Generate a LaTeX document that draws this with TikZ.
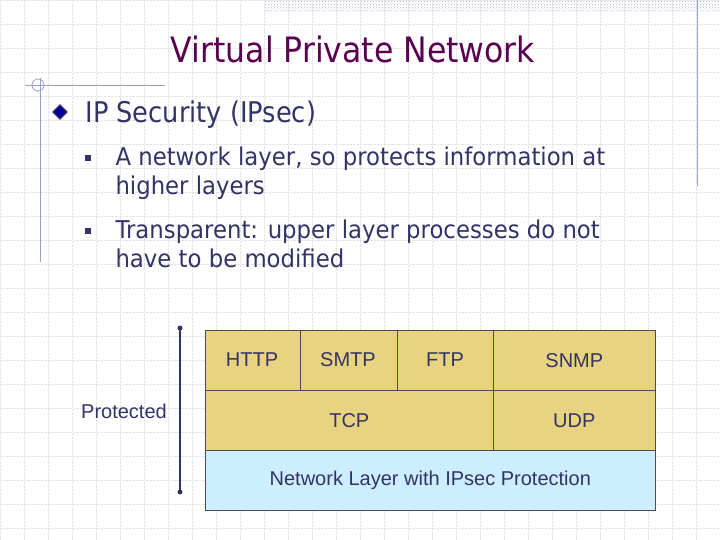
\documentclass[tikz,border=0pt]{standalone}
\usepackage{fontspec}
\setmainfont{DejaVu Sans}
\newfontfamily\arialf{Liberation Sans}
\usetikzlibrary{patterns}
\definecolor{titlec}{HTML}{5A0050}
\definecolor{bodyc}{HTML}{333366}
\definecolor{tan}{HTML}{E8D480}
\definecolor{lblue}{HTML}{CCEEFF}
\definecolor{gridc}{HTML}{E4E4E4}
\definecolor{decoc}{HTML}{99A0C8}
\tikzset{cell/.style={draw=black!70,line width=0.6pt,fill=tan},
 lbl/.style={font=\arialf\fontsize{20}{24}\selectfont,text=bodyc},
 sub/.style={anchor=north west,align=left,text=bodyc,font=\fontsize{24.5}{29}\selectfont\addfontfeatures{FakeStretch=0.93}}}
\begin{document}
\begin{tikzpicture}[x=1pt,y=-1pt]
\useasboundingbox (0,0) rectangle (720,540);
\fill[white] (0,0) rectangle (720,540);
\foreach \i in {0,24,...,720} \draw[gridc,densely dotted,line width=0.4pt] (\i,0) -- (\i,540);
\foreach \j in {0,24,...,540} \draw[gridc,densely dotted,line width=0.4pt] (0,\j) -- (720,\j);
\fill[pattern=crosshatch dots,pattern color=decoc!70] (265,0) rectangle (720,12);
\draw[decoc,line width=0.8pt] (697,0) -- (697,186);
\draw[decoc,line width=0.8pt] (25,85) -- (165,85);
\draw[decoc,line width=0.8pt] (40,78) -- (40,262);
\draw[decoc,line width=0.8pt] (38,85) circle (6);
\node[text=titlec,font=\fontsize{35}{38}\selectfont\addfontfeatures{FakeStretch=0.9}] (title) at (353,49) {Virtual Private Network};
\node[draw=bodyc,fill=blue!60!black,inner sep=0pt,rotate=45,minimum width=10pt,minimum height=10pt,line width=1.2pt] (dia) at (60,112) {};
\node[anchor=west,text=bodyc,font=\fontsize{28.5}{32}\selectfont\addfontfeatures{FakeStretch=0.9}] (ips) at (82,115) {IP Security (IPsec)};
\fill[bodyc] (85,155) rectangle (91,161);
\fill[bodyc] (85,228) rectangle (91,234);
\node[sub] (b1) at (112,143) {A network layer, so protects information at\\higher layers};
\node[sub] (b2) at (112,216) {Transparent: upper layer processes do not\\have to be modified};
\node[cell,minimum width=95,minimum height=60,anchor=north west] (http) at (205,330) {};
\node[lbl] at (252,360) {HTTP};
\node[cell,minimum width=97,minimum height=60,anchor=north west] (smtp) at (300,330) {};
\node[lbl] at (348,360) {SMTP};
\node[cell,minimum width=96,minimum height=60,anchor=north west] (ftp) at (397,330) {};
\node[lbl] at (445,360) {FTP};
\node[cell,minimum width=162,minimum height=60,anchor=north west,lbl] (snmp) at (493,330) {SNMP};
\node[cell,minimum width=288,minimum height=60,anchor=north west,lbl] (tcp) at (205,390) {TCP};
\node[cell,minimum width=162,minimum height=60,anchor=north west,lbl] (udp) at (493,390) {UDP};
\node[cell,fill=lblue,minimum width=450,minimum height=60,anchor=north west,lbl] (net) at (205,450) {Network Layer with IPsec Protection};
\coordinate (at) at (180,328);
\coordinate (ab) at (180,492);
\draw[bodyc,line width=2pt] (at) -- (ab);
\fill[bodyc] (at) circle (2.5) (ab) circle (2.5);
\node[lbl] (prot) at (124,411) {Protected};
\end{tikzpicture}
\end{document}
